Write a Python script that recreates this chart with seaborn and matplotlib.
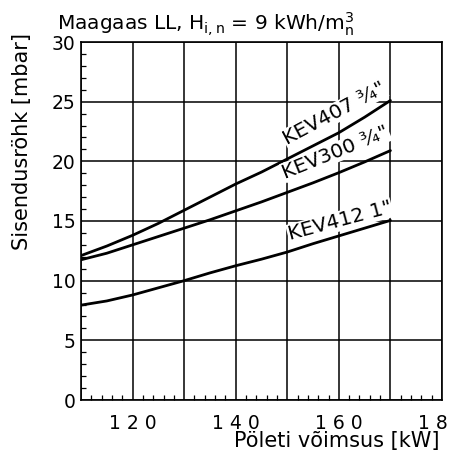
import pandas as pd
import matplotlib
matplotlib.use("Agg")
import matplotlib.pyplot as plt
from matplotlib.ticker import MultipleLocator, FuncFormatter
import seaborn as sns

# Andmed (loetud graafikult)
voimsus = [110, 115, 120, 125, 130, 135, 140, 145, 150, 155, 160, 165, 170]
kev407 = [12.1, 12.9, 13.8, 14.8, 15.9, 17.0, 18.1, 19.1, 20.2, 21.3, 22.4, 23.7, 25.1]
kev300 = [11.75, 12.3, 13.0, 13.7, 14.4, 15.1, 15.85, 16.6, 17.4, 18.2, 19.05, 19.95, 20.9]
kev412 = [7.95, 8.3, 8.8, 9.4, 10.0, 10.65, 11.25, 11.8, 12.4, 13.1, 13.75, 14.4, 15.05]

mudelid = ["KEV407 ³⁄₄\"", "KEV300 ³⁄₄\"", "KEV412 1\""]
x_sildid = [120, 140, 160, 180]

df = pd.DataFrame({
    "Võimsus": voimsus * 3,
    "Rõhk": kev407 + kev300 + kev412,
    "Mudel": [mudelid[0]] * len(voimsus) + [mudelid[1]] * len(voimsus) + [mudelid[2]] * len(voimsus),
})

sns.set_style("white")
plt.rcParams["font.family"] = ["DejaVu Sans"]
plt.rcParams["text.color"] = "black"
plt.rcParams["axes.labelcolor"] = "black"
plt.rcParams["xtick.color"] = "black"
plt.rcParams["ytick.color"] = "black"

fig = plt.figure(figsize=(4.5, 4.54), dpi=100)
ax = fig.add_axes([81 / 450, 1 - 400 / 454, 361 / 450, 358 / 454])

sns.lineplot(data=df, x="Võimsus", y="Rõhk", hue="Mudel",
             palette=["black"] * 3, linewidth=2.0, legend=False, ax=ax)

ax.set_xlim(110, 180)
ax.set_ylim(0, 30)

# ruudustik
ax.xaxis.set_major_locator(MultipleLocator(10))
ax.xaxis.set_minor_locator(MultipleLocator(2))
ax.yaxis.set_major_locator(MultipleLocator(5))
ax.yaxis.set_minor_locator(MultipleLocator(1))
ax.xaxis.set_major_formatter(FuncFormatter(
    lambda v, p: " ".join(str(int(round(v)))) if int(round(v)) in x_sildid else ""))
ax.grid(True, which="major", color="black", linewidth=1.1)
for s in ax.spines.values():
    s.set_color("black")
    s.set_linewidth(1.2)

ax.tick_params(which="major", length=0, labelsize=13.5, colors="black", labelcolor="black")
ax.tick_params(axis="x", which="major", pad=10)
ax.tick_params(axis="y", which="major", pad=4)
ax.tick_params(which="minor", direction="in", length=3.5, width=0.9,
               bottom=True, left=True, top=False, right=False, colors="black")
ax.set_xlabel("")
ax.set_ylabel("")

# kõverate sildid
sildid = [(159.1, 24.0, 28), (159.4, 20.75, 22), (160.2, 15.0, 15)]
for nimi, (lx, ly, nurk) in zip(mudelid, sildid):
    ax.text(lx, ly, nimi, fontsize=14.5, rotation=nurk, rotation_mode="anchor",
            ha="center", va="center", zorder=5, color="black",
            bbox=dict(facecolor="white", edgecolor="none", pad=0.5))

fig.text(57 / 450, 1 - 30 / 454,
         r"Maagaas LL, H$_{\mathregular{i,n}}$ = 9 kWh/m$^{\mathregular{3}}_{\mathregular{n}}$",
         fontsize=14.5, ha="left", va="baseline", color="black")
fig.text(22 / 450, 1 - 33 / 454, "Sisendusröhk [mbar]", fontsize=15,
         rotation=90, ha="center", va="top", color="black")
fig.text(440 / 450, 1 - 447 / 454, "Pöleti võimsus [kW]", fontsize=15,
         ha="right", va="baseline", color="black")

fig.savefig("out.png", dpi=100)
